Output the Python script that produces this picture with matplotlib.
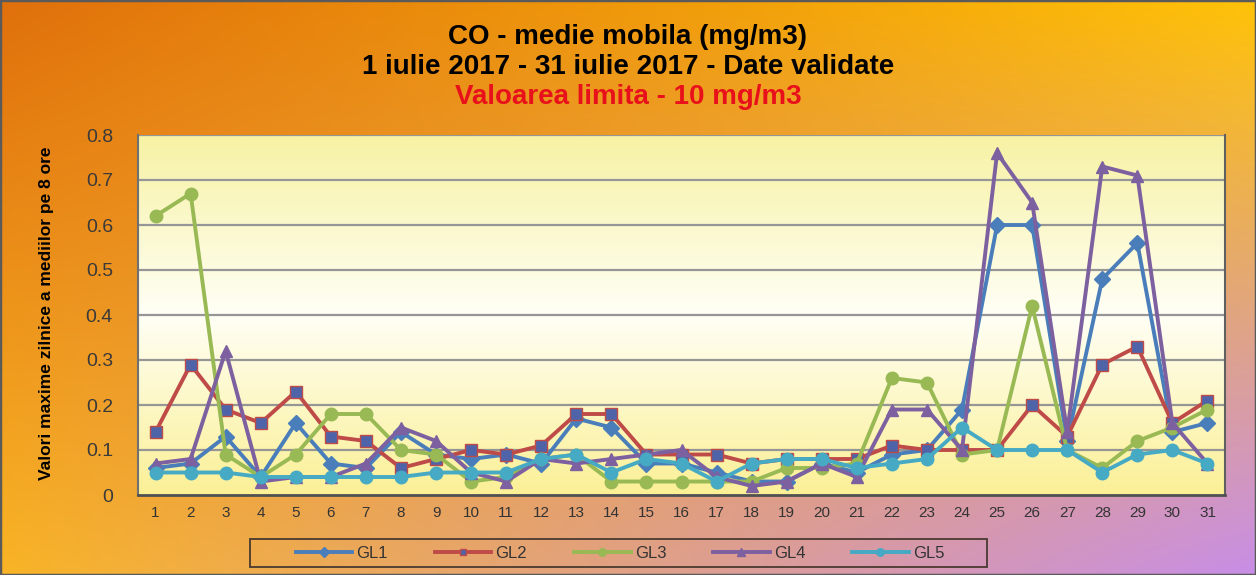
import numpy as np
import matplotlib
matplotlib.use("Agg")
import matplotlib.pyplot as plt
from matplotlib.colors import to_rgb
from matplotlib.patches import Rectangle

days = list(range(1, 32))
GL1 = [0.06, 0.07, 0.13, 0.04, 0.16, 0.07, 0.06, 0.14, 0.09, 0.08, 0.09, 0.07, 0.17, 0.15, 0.07, 0.07,
       0.05, 0.03, 0.03, 0.07, 0.05, 0.09, 0.10, 0.19, 0.60, 0.60, 0.12, 0.48, 0.56, 0.14, 0.16]
GL2 = [0.14, 0.29, 0.19, 0.16, 0.23, 0.13, 0.12, 0.06, 0.08, 0.10, 0.09, 0.11, 0.18, 0.18, 0.09, 0.09,
       0.09, 0.07, 0.08, 0.08, 0.08, 0.11, 0.10, 0.10, 0.10, 0.20, 0.13, 0.29, 0.33, 0.16, 0.21]
GL3 = [0.62, 0.67, 0.09, 0.04, 0.09, 0.18, 0.18, 0.10, 0.09, 0.03, 0.04, 0.08, 0.09, 0.03, 0.03, 0.03,
       0.03, 0.03, 0.06, 0.06, 0.07, 0.26, 0.25, 0.09, 0.10, 0.42, 0.10, 0.06, 0.12, 0.15, 0.19]
GL4 = [0.07, 0.08, 0.32, 0.03, 0.04, 0.04, 0.07, 0.15, 0.12, 0.05, 0.03, 0.08, 0.07, 0.08, 0.09, 0.10,
       0.04, 0.02, 0.03, 0.07, 0.04, 0.19, 0.19, 0.10, 0.76, 0.65, 0.14, 0.73, 0.71, 0.16, 0.07]
GL5 = [0.05, 0.05, 0.05, 0.04, 0.04, 0.04, 0.04, 0.04, 0.05, 0.05, 0.05, 0.08, 0.09, 0.05, 0.08, 0.07,
       0.03, 0.07, 0.08, 0.08, 0.06, 0.07, 0.08, 0.15, 0.10, 0.10, 0.10, 0.05, 0.09, 0.10, 0.07]
series_names = ["GL1", "GL2", "GL3", "GL4", "GL5"]
yticks = [0, 0.1, 0.2, 0.3, 0.4, 0.5, 0.6, 0.7, 0.8]
ytick_labels = ["0", "0.1", "0.2", "0.3", "0.4", "0.5", "0.6", "0.7", "0.8"]

plt.rcParams['font.family'] = ['Liberation Sans', 'DejaVu Sans']

W, H = 1256, 575
fig = plt.figure(figsize=(W / 100, H / 100), dpi=100)

# figure background gradient (bilinear over four corners)
tl, tr = np.array(to_rgb("#e0700c")), np.array(to_rgb("#ffc208"))
bl, br = np.array(to_rgb("#f9b426")), np.array(to_rgb("#c88ee6"))
ny, nx = 100, 200
u = np.linspace(0, 1, nx)[None, :, None]
v = np.linspace(0, 1, ny)[:, None, None]
top = tl * (1 - u) + tr * u
bot = bl * (1 - u) + br * u
img = top * (1 - v) + bot * v
bg = fig.add_axes([0, 0, 1, 1], zorder=-10)
bg.imshow(img, aspect='auto', extent=[0, 1, 0, 1], interpolation='bilinear')
bg.set_xlim(0, 1)
bg.set_ylim(0, 1)
bg.add_patch(Rectangle((0, 0), 1, 1, fill=False, edgecolor="#5a5a5a", lw=2.5, transform=bg.transAxes))
# legend frame
bg.add_patch(Rectangle((250 / W, 1 - 567 / H), (987 - 250) / W, (567 - 539) / H, fill=False,
                       edgecolor="#4a3a30", lw=1.3, transform=bg.transAxes))
bg.set_axis_off()

ax = fig.add_axes([138 / W, 1 - 495 / H, (1225 - 138) / W, (495 - 135) / H])
# plot area gradient
c1, c2, c3 = np.array(to_rgb("#f7f2a4")), np.array(to_rgb("#fffff6")), np.array(to_rgb("#fbf096"))
t = np.linspace(0, 1, 100)[:, None]
grad = np.where(t < 0.5, c1 * (1 - t / 0.5) + c2 * (t / 0.5), c2 * (1 - (t - 0.5) / 0.5) + c3 * ((t - 0.5) / 0.5))
ax.imshow(grad[:, None, :], aspect='auto', extent=[0.5, 31.5, 0, 0.8], zorder=0, interpolation='bilinear')

for y in yticks[1:]:
    ax.axhline(y, color="#969696", lw=1.6, zorder=1)

styles = [
    dict(color="#4a7ebb", marker="D", mfc="#4a7ebb", mec="#4a7ebb", ms=8),
    dict(color="#be4b48", marker="s", mfc="#4f64a8", mec="#be4b48", ms=8),
    dict(color="#98b954", marker="o", mfc="#98b954", mec="#98b954", ms=9),
    dict(color="#7d60a0", marker="^", mfc="#7d60a0", mec="#7d60a0", ms=9),
    dict(color="#46aac5", marker="o", mfc="#46aac5", mec="#46aac5", ms=9),
]
for name, vals, st in zip(series_names, [GL1, GL2, GL3, GL4, GL5], styles):
    ax.plot(days, vals, lw=2.8, label=name, zorder=3, **st)

ax.set_xlim(0.5, 31.5)
ax.set_ylim(0, 0.8)
ax.set_xticks(days)
ax.set_xticklabels([str(d) for d in days], fontsize=11, color="#333333")
ax.set_yticks(yticks)
ax.set_yticklabels(ytick_labels, fontsize=14, color="#3a3a3a")
ax.tick_params(axis='y', length=0, pad=18)
ax.tick_params(axis='x', length=0, pad=8)
ax.spines["top"].set_visible(False)
ax.spines["left"].set_color("#707070")
ax.spines["bottom"].set_color("#505050")
ax.spines["right"].set_color("#606060")
ax.spines["left"].set_linewidth(1.5)
ax.spines["bottom"].set_linewidth(2)
ax.spines["right"].set_linewidth(1.5)

fig.text(47 / W, 1 - 313 / H, "Valori maxime zilnice a mediilor pe 8 ore", rotation=90,
         ha='center', va='center', fontsize=12.5, fontweight='bold')

fig.text(0.5, 1 - 37 / H, "CO - medie mobila (mg/m3)", ha='center', va='center', fontsize=20, fontweight='bold')
fig.text(0.5, 1 - 67 / H, "1 iulie 2017 - 31 iulie 2017 - Date validate", ha='center', va='center',
         fontsize=20, fontweight='bold')
fig.text(0.5, 1 - 97 / H, "Valoarea limita - 10 mg/m3", ha='center', va='center', fontsize=20,
         fontweight='bold', color="#e8101a")

leg = ax.legend(loc='center', bbox_to_anchor=((620 - 138) / (1225 - 138), -(553 - 495) / (495 - 135)),
                ncol=5, frameon=False, fontsize=12, columnspacing=2.8,
                handlelength=3.4, handletextpad=0.25, markerscale=0.6)
for txt in leg.get_texts():
    txt.set_color("#333333")

fig.savefig("out.png", dpi=100)
